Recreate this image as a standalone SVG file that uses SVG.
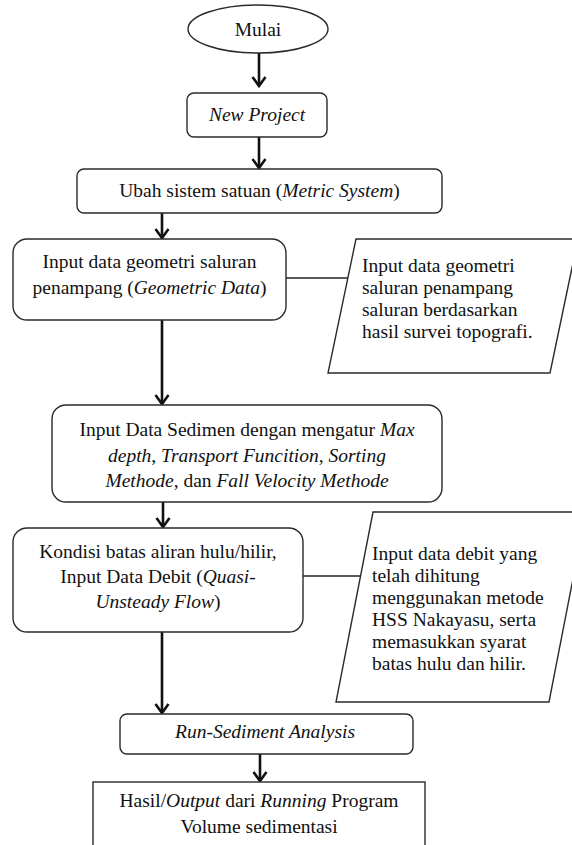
<svg xmlns="http://www.w3.org/2000/svg" width="572" height="845" viewBox="0 0 572 845">
<style>
  .shape { fill: #ffffff; stroke: #2a2a2a; stroke-width: 1.4; }
  .t { font-family: "Liberation Serif", "Times New Roman", serif; font-size: 19.5px; fill: #111; }
  .c { text-anchor: middle; }
  .i { font-style: italic; }
  .flow { stroke: #111; stroke-width: 2.6; fill: none; marker-end: url(#arr); }
  .link { stroke: #222; stroke-width: 1.4; fill: none; }
</style>
<defs>
  <marker id="arr" markerUnits="userSpaceOnUse" markerWidth="20" markerHeight="20" viewBox="-10 -10 20 20" refX="0" refY="0" orient="auto" overflow="visible">
    <path d="M-9,-6.5 L0,0 L-9,6.5" fill="none" stroke="#111" stroke-width="2.6" stroke-linejoin="miter"/>
  </marker>
</defs>
<rect width="572" height="845" fill="#ffffff"/>

<g id="connectors">
  <line class="flow" x1="259" y1="53" x2="259" y2="86"/>
  <line class="flow" x1="259" y1="137" x2="259" y2="168"/>
  <line class="flow" x1="162" y1="213" x2="162" y2="238"/>
  <line class="flow" x1="162" y1="320" x2="162" y2="404"/>
  <line class="flow" x1="163" y1="502" x2="163" y2="527"/>
  <line class="flow" x1="162" y1="632" x2="162" y2="713"/>
  <line class="flow" x1="260" y1="754" x2="260" y2="781"/>
  <line class="link" x1="286" y1="278" x2="348" y2="278"/>
  <line class="link" x1="303" y1="576" x2="362" y2="576"/>
</g>

<g id="mulai">
  <ellipse class="shape" cx="258" cy="29" rx="70" ry="24"/>
  <text class="t c" x="258" y="36">Mulai</text>
</g>

<g id="new-project">
  <rect class="shape" x="187" y="93" width="140" height="44" rx="7"/>
  <text class="t c i" x="257" y="121">New Project</text>
</g>

<g id="ubah-satuan">
  <rect class="shape" x="77" y="169" width="365" height="44" rx="7"/>
  <text class="t c" x="259.5" y="197">Ubah sistem satuan (<tspan class="i">Metric System</tspan>)</text>
</g>

<g id="geometri">
  <rect class="shape" x="13" y="239" width="273" height="81" rx="14"/>
  <text class="t c" x="149.5" y="268">Input data geometri saluran</text>
  <text class="t c" x="149.5" y="294">penampang (<tspan class="i">Geometric Data</tspan>)</text>
</g>

<g id="geometri-note">
  <polygon class="shape" points="356,239 578,239 550,373 328,373"/>
  <text class="t" x="362" y="272">Input data geometri</text>
  <text class="t" x="362" y="294">saluran penampang</text>
  <text class="t" x="362" y="316">saluran berdasarkan</text>
  <text class="t" x="362" y="338">hasil survei topografi.</text>
</g>

<g id="sedimen">
  <rect class="shape" x="52" y="405" width="390" height="97" rx="14"/>
  <text class="t c" x="247" y="436">Input Data Sedimen dengan mengatur <tspan class="i">Max</tspan></text>
  <text class="t c" x="247" y="461.5"><tspan class="i">depth</tspan>, <tspan class="i">Transport Funcition</tspan>, <tspan class="i">Sorting</tspan></text>
  <text class="t c" x="247" y="487"><tspan class="i">Methode</tspan>, dan <tspan class="i">Fall Velocity Methode</tspan></text>
</g>

<g id="kondisi">
  <rect class="shape" x="13" y="528" width="290" height="104" rx="14"/>
  <text class="t c" x="158" y="558">Kondisi batas aliran hulu/hilir,</text>
  <text class="t c" x="158" y="583">Input Data Debit (<tspan class="i">Quasi-</tspan></text>
  <text class="t c" x="158" y="608"><tspan class="i">Unsteady Flow</tspan>)</text>
</g>

<g id="debit-note">
  <polygon class="shape" points="373,512 586,512 549,702 336,702"/>
  <text class="t" x="372" y="560">Input data debit yang</text>
  <text class="t" x="372" y="582">telah dihitung</text>
  <text class="t" x="372" y="604">menggunakan metode</text>
  <text class="t" x="372" y="626">HSS Nakayasu, serta</text>
  <text class="t" x="372" y="648">memasukkan syarat</text>
  <text class="t" x="372" y="670">batas hulu dan hilir.</text>
</g>

<g id="run-sediment">
  <rect class="shape" x="120" y="714" width="293" height="40" rx="7"/>
  <text class="t c i" x="265" y="738">Run-Sediment Analysis</text>
</g>

<g id="hasil">
  <rect class="shape" x="93" y="782" width="332" height="80"/>
  <text class="t c" x="259" y="807">Hasil/<tspan class="i">Output</tspan> dari <tspan class="i">Running</tspan> Program</text>
  <text class="t c" x="259" y="833">Volume sedimentasi</text>
</g>
</svg>
